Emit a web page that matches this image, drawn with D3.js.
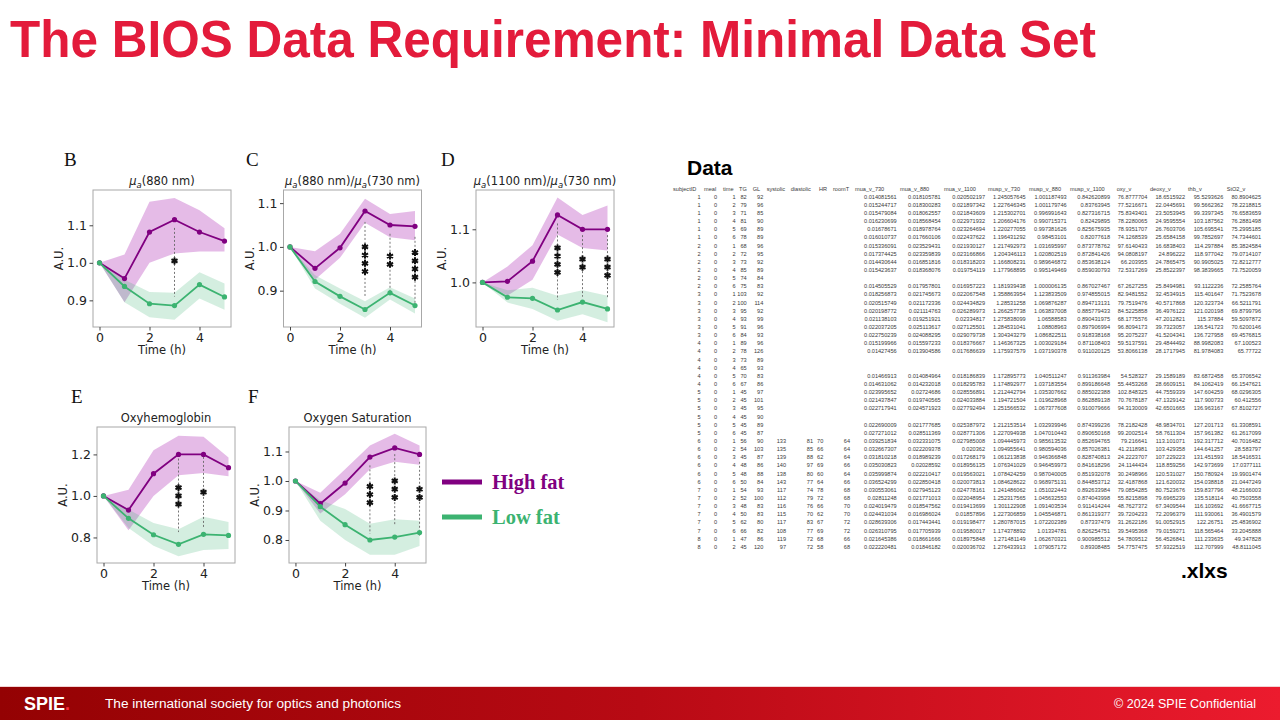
<!DOCTYPE html>
<html><head><meta charset="utf-8">
<script src="https://cdn.jsdelivr.net/npm/d3@7"></script>
<style>body{margin:0;background:#fff}svg{display:block}</style>
</head><body>
<svg id="c" width="1280" height="720"></svg>
<script>
// ---------------- chart data ----------------
const hours = [0, 1, 2, 3, 4, 5];
const xTickValues = [0, 2, 4];

const bHigh   = [1.0, 0.958, 1.082, 1.115, 1.082, 1.058];
const bHighLo = [1.0, 0.895, 1.0, 1.025, 1.03, 1.03];
const bHighHi = [1.0, 1.022, 1.163, 1.173, 1.14, 1.092];
const bLow    = [1.0, 0.937, 0.891, 0.886, 0.942, 0.909];
const bLowLo  = [1.0, 0.895, 0.855, 0.848, 0.905, 0.875];
const bLowHi  = [1.0, 0.955, 0.922, 0.92, 0.975, 0.945];
const bSig = [{t:3, n:1, top:1.093, bot:0.91, star:1.005}];

const cHigh   = [1.0, 0.951, 0.998, 1.082, 1.05, 1.047];
const cHighLo = [1.0, 0.925, 0.975, 1.055, 1.022, 1.015];
const cHighHi = [1.0, 0.99, 1.03, 1.11, 1.075, 1.082];
const cLow    = [1.0, 0.921, 0.887, 0.857, 0.895, 0.866];
const cLowLo  = [1.0, 0.905, 0.87, 0.838, 0.88, 0.848];
const cLowHi  = [1.0, 0.935, 0.905, 0.876, 0.908, 0.882];
const cSig = [{t:3, n:4, top:1.057, bot:0.886, star:1.0},
              {t:4, n:2, top:1.03, bot:0.897, star:0.979},
              {t:5, n:4, top:1.023, bot:0.87, star:0.987}];

const dHigh   = [1.0, 1.002, 1.04, 1.127, 1.1, 1.1];
const dHighLo = [1.0, 0.975, 1.005, 1.09, 1.065, 1.06];
const dHighHi = [1.0, 1.03, 1.07, 1.16, 1.127, 1.145];
const dLow    = [1.0, 0.972, 0.97, 0.948, 0.963, 0.95];
const dLowLo  = [1.0, 0.962, 0.95, 0.928, 0.94, 0.925];
const dLowHi  = [1.0, 0.985, 0.99, 0.975, 0.985, 0.975];
const dSig = [{t:3, n:4, top:1.111, bot:0.967, star:1.065},
              {t:4, n:2, top:1.089, bot:0.973, star:1.044},
              {t:5, n:3, top:1.089, bot:0.97, star:1.044}];

const eHigh   = [1.0, 0.932, 1.107, 1.2, 1.2, 1.136];
const eHighLo = [1.0, 0.835, 1.0, 1.1, 1.11, 1.095];
const eHighHi = [1.0, 1.03, 1.22, 1.29, 1.285, 1.185];
const eLow    = [1.0, 0.892, 0.813, 0.767, 0.815, 0.81];
const eLowLo  = [1.0, 0.845, 0.76, 0.71, 0.74, 0.745];
const eLowHi  = [1.0, 0.935, 0.87, 0.84, 0.9, 0.875];
const eSig = [{t:3, n:3, top:1.18, bot:0.826, star:1.04},
              {t:4, n:1, top:1.188, bot:0.85, star:1.018}];

const fHigh   = [1.0, 0.923, 0.993, 1.081, 1.112, 1.09];
const fHighLo = [1.0, 0.89, 0.955, 1.04, 1.065, 1.055];
const fHighHi = [1.0, 0.96, 1.04, 1.12, 1.16, 1.12];
const fLow    = [1.0, 0.913, 0.852, 0.8, 0.81, 0.825];
const fLowLo  = [1.0, 0.865, 0.8, 0.75, 0.75, 0.78];
const fLowHi  = [1.0, 0.935, 0.905, 0.855, 0.87, 0.865];
const fSig = [{t:3, n:3, top:1.053, bot:0.821, star:0.982},
              {t:4, n:3, top:1.091, bot:0.849, star:1.0},
              {t:5, n:2, top:1.065, bot:0.815, star:0.972}];

const legendLabels = ["High fat", "Low fat"];

// ---------------- table data ----------------
const tableHeaders = ["subjectID","meal","time","TG","GL","systolic","diastolic","HR","roomT","mua_v_730","mua_v_880","mua_v_1100","musp_v_730","musp_v_880","musp_v_1100","oxy_v","deoxy_v","thb_v","StO2_v"];
const colSubject = [1,1,1,1,1,1,2,2,2,2,2,2,3,3,3,3,3,3,4,4,4,4,4,4,5,5,5,5,5,5,6,6,6,6,6,6,7,7,7,7,7,7,8,8];
const colMeal = [0,0,0,0,0,0,0,0,0,0,0,0,0,0,0,0,0,0,0,0,0,0,0,0,0,0,0,0,0,0,0,0,0,0,0,0,0,0,0,0,0,0,0,0];
const colTime = [1,2,3,4,5,6,1,2,3,4,5,6,1,2,3,4,5,6,1,2,3,4,5,6,1,2,3,4,5,6,1,2,3,4,5,6,1,2,3,4,5,6,1,2];
const colTG = [82,79,71,81,69,78,68,72,73,85,74,75,103,100,95,93,91,84,89,78,73,65,70,67,45,45,45,45,45,45,56,54,45,48,48,50,54,52,48,50,62,66,47,45];
const colGL = [92,96,85,90,89,89,96,95,92,89,84,83,92,114,92,99,96,93,96,126,89,93,83,86,97,101,95,90,89,87,90,103,87,86,88,84,93,100,83,83,80,82,86,120];
const N30 = [null,null,null,null,null,null,null,null,null,null,null,null,null,null,null,null,null,null,null,null,null,null,null,null,null,null,null,null,null,null];
const colSys = N30.concat([133,135,139,140,138,143,117,112,116,115,117,108,119,97]);
const colDia = N30.concat([81,85,88,97,80,77,74,79,76,70,83,77,72,72]);
const colHR = N30.concat([70,66,62,69,60,64,78,72,66,62,67,69,68,58]);
const colRoomT = N30.concat([64,64,64,66,64,66,68,68,70,70,72,72,66,68]);
const colMua730 = ["0.014081561","0.015244717","0.015479084","0.016230699","0.01678671","0.016010737","0.015336091","0.017374425","0.014430644","0.015423637",null,"0.014505529","0.018256873","0.020515749","0.020198772","0.021138103","0.022037205","0.022750239","0.015199966","0.01427456",null,null,"0.01466913","0.014631062","0.023995652","0.021437847","0.022717941",null,"0.022690009","0.027271012","0.039251834","0.032667307","0.031810218","0.035030823","0.035999874","0.036524299","0.030553061","0.02811248","0.024019479","0.024431034","0.028639306","0.026310795","0.021645386","0.022220481"];
const colMua880 = ["0.018105781","0.018300283","0.018062557","0.018568454","0.018978764","0.017660106","0.023529431","0.023359839","0.016851816","0.018368076",null,"0.017957801","0.021745673","0.021172336","0.021114763","0.019251921","0.025113617","0.024088295","0.015597233","0.013904586",null,null,"0.014084964","0.014232018","0.02724686","0.019740565","0.024571923",null,"0.021777685","0.028511369","0.032331075","0.022209378","0.018989239","0.02028592","0.022210417","0.022850418","0.027945123","0.021771013","0.018547562","0.016986024","0.017443441","0.017705939","0.018661666","0.01846182"];
const colMua1100 = ["0.020502197","0.021897342","0.021843609","0.022971932","0.023264694","0.022437622","0.021930127","0.023166866","0.018318203","0.019754119",null,"0.016957223","0.022067548","0.024434829","0.026289973","0.02334817","0.027125501","0.029079738","0.018376667","0.017686639",null,null,"0.018186839","0.018295783","0.028556891","0.024033884","0.027792494",null,"0.025387972","0.028771306","0.027985008","0.020362","0.017268179","0.018956135","0.019563021","0.020073813","0.024778161","0.022048954","0.019413699","0.01857896","0.019198477","0.019580017","0.018975848","0.020036702"];
const colMusp730 = ["1.245057645","1.227646345","1.215302701","1.206604176","1.220277055","1.196431292","1.217492973","1.204346113","1.166808231","1.177968895",null,"1.181939438","1.358863954","1.28531258","1.266257738","1.275838099","1.284531041","1.304343279","1.146367325","1.175937579",null,null,"1.172895773","1.174892977","1.212442794","1.194721504","1.251566532",null,"1.212153514","1.227094938","1.094445973","1.094955641","1.061213838","1.076341029","1.078424259","1.084628622","1.241486062","1.252317565","1.301122908","1.227306859","1.280787015","1.174378892","1.271481149","1.276433913"];
const colMusp880 = ["1.001187493","1.001179746","0.996991643","0.990715371","0.997381626","0.98453101","1.031695997","1.020802519","0.989646872","0.995149469",null,"1.000006135","1.123833509","1.069876287","1.063837008","1.06588583","1.08808963","1.086822511","1.003029184","1.037190378",null,null,"1.040511247","1.037183554","1.035307662","1.019628968","1.067377608",null,"1.032939946","1.047010443","0.985613532","0.980594036","0.946366848","0.946459973","0.987040005","0.968975131","1.051022443","1.045632553","1.091403534","1.045546871","1.072202389","1.01334781","1.062670321","1.079057172"];
const colMusp1100 = ["0.842620899","0.83763945","0.827316715","0.82429895","0.825675935","0.82077618","0.873778762","0.872841426","0.853638124","0.859030793",null,"0.867027467","0.974855015","0.894713131","0.885779433","0.890431975","0.897906994","0.918338168","0.871108403","0.911020125",null,null,"0.911363984","0.899186648","0.885022388","0.862889138","0.910079666",null,"0.874399236","0.890650168","0.852694765","0.857026381","0.828740813","0.841618296","0.851932078","0.844853712","0.892633984","0.874043998","0.911414244","0.861319377","0.87337479","0.826254751","0.900985512","0.89308485"];
const colOxy = ["76.8777704","77.5216671","75.8343401","78.2280065","78.9351707","74.1268539","97.6140433","94.0808197","66.203955","72.5317269",null,"67.2627255","82.9481552","79.7519476","84.5225858","68.1775576","96.8094173","95.2075237","59.5137591","53.8066138",null,null,"54.528327","55.4453268","102.848325","70.7678187","94.3130009",null,"78.2182428","99.2002514","79.216641","41.2118981","24.2223707","24.1144434","30.2498966","32.4187868","79.0854285","55.8215898","48.7627372","39.7204233","31.2622186","39.5495368","54.7809512","54.7757475"];
const colDeoxy = ["18.6515922","22.0445691","23.5053945","24.9595554","26.7603706","25.6584158","16.6838403","24.896222","24.7865475","25.8522397",null,"25.8494981","32.4534915","40.5717868","36.4976122","47.2012821","39.7323057","41.5204341","29.4844492","28.1717945",null,null,"29.1589189","28.6609151","44.7559339","47.1329142","42.6501665",null,"48.9834701","58.7611304","113.101071","103.429358","107.229223","118.859256","120.531027","121.620032","80.7523676","79.6965239","67.3409544","72.2096379","91.0052915","79.0159271","56.4526841","57.9322519"];
const colThb = ["95.5293626","99.5662362","99.3397345","103.187562","105.695541","99.7852697","114.297884","118.977042","90.9905025","98.3839665",null,"93.1122236","115.401647","120.323734","121.020198","115.37884","136.541723","136.727958","88.9982083","81.9784083",null,null,"83.6872458","84.1062419","147.604259","117.900733","136.963167",null,"127.201713","157.961382","192.317712","144.641257","131.451593","142.973699","150.780924","154.038818","159.837796","135.518114","116.103692","111.930061","122.26751","118.565464","111.233635","112.707999"];
const colStO2 = ["80.8904625","78.2218815","76.6583659","76.2881498","75.2995185","74.7344601","85.3824584","79.0714107","72.8212777","73.7520059",null,"72.2585764","71.7523678","66.5211791","69.8799796","59.5097872","70.6200146","69.4576815","67.100523","65.77722",null,null,"65.3706542","66.1547621","68.0296305","60.412556","67.8102727",null,"61.3308591","61.2617099","40.7016482","28.583797","18.5416531","17.0377111","19.9901474","21.0447249","48.2166003","40.7503558","41.6667715","36.4901579","25.4836902","33.2045888","49.347828","48.8111045"];

// ---------------- drawing ----------------
const svg = d3.select("#c");
const PURPLE = "#800080", GREEN = "#3cb371";
const defs = svg.append("defs");

// Title
svg.append("text").attr("x", 10).attr("y", 57)
  .attr("font-family", "Liberation Sans, Arial, sans-serif").attr("font-weight", "bold")
  .attr("font-size", 52).attr("fill", "#e31b3b")
  .attr("textLength", 1086).attr("lengthAdjust", "spacingAndGlyphs")
  .text("The BIOS Data Requirement: Minimal Data Set");

// Panels
const panels = [
  {letter:"B", lx:64, ly:166, l:93, r:231, t:190, b:327, yDom:[0.829,1.194], yTicks:[0.9,1.0,1.1],
   title:[["μ","i"],["a","s"],["(880 nm)",""]], hi:bHigh, hiLo:bHighLo, hiHi:bHighHi, lo:bLow, loLo:bLowLo, loHi:bLowHi, sig:bSig},
  {letter:"C", lx:246, ly:166, l:283.5, r:421.5, t:190, b:327, yDom:[0.817,1.13], yTicks:[0.9,1.0,1.1],
   title:[["μ","i"],["a","s"],["(880 nm)/",""],["μ","i"],["a","s"],["(730 nm)",""]], hi:cHigh, hiLo:cHighLo, hiHi:cHighHi, lo:cLow, loLo:cLowLo, loHi:cLowHi, sig:cSig},
  {letter:"D", lx:441, ly:166, l:476, r:614, t:190, b:327, yDom:[0.916,1.174], yTicks:[1.0,1.1],
   title:[["μ","i"],["a","s"],["(1100 nm)/",""],["μ","i"],["a","s"],["(730 nm)",""]], hi:dHigh, hiLo:dHighLo, hiHi:dHighHi, lo:dLow, loLo:dLowLo, loHi:dLowHi, sig:dSig},
  {letter:"E", lx:71, ly:403, l:97, r:235, t:427, b:563, yDom:[0.677,1.332], yTicks:[0.8,1.0,1.2],
   title:[["Oxyhemoglobin",""]], hi:eHigh, hiLo:eHighLo, hiHi:eHighHi, lo:eLow, loLo:eLowLo, loHi:eLowHi, sig:eSig},
  {letter:"F", lx:248, ly:403, l:289, r:426, t:427, b:563, yDom:[0.722,1.183], yTicks:[0.8,0.9,1.0,1.1],
   title:[["Oxygen Saturation",""]], hi:fHigh, hiLo:fHighLo, hiHi:fHighHi, lo:fLow, loLo:fLowLo, loHi:fLowHi, sig:fSig}
];

const FONT = "DejaVu Sans, sans-serif";
const star = d3.symbol().type(d3.symbolAsterisk).size(34);

panels.forEach(p => {
  const g = svg.append("g");
  const x = d3.scaleLinear().domain([-0.26, 5.26]).range([p.l, p.r]);
  const y = d3.scaleLinear().domain(p.yDom).range([p.b, p.t]);

  g.append("text").attr("x", p.lx).attr("y", p.ly)
    .attr("font-family", "Liberation Serif, Times New Roman, serif").attr("font-size", 19)
    .attr("fill", "#111").text(p.letter);

  const band = (lo, hi) => d3.area().x((d, i) => x(hours[i])).y0((d, i) => y(lo[i])).y1((d, i) => y(hi[i]))(hours);
  g.append("path").attr("d", band(p.hiLo, p.hiHi)).attr("fill", "#bd55c4").attr("fill-opacity", 0.4);
  g.append("path").attr("d", band(p.loLo, p.loHi)).attr("fill", GREEN).attr("fill-opacity", 0.22);

  g.selectAll(".sig").data(p.sig).join("line")
    .attr("x1", d => x(d.t)).attr("x2", d => x(d.t))
    .attr("y1", d => y(d.top)).attr("y2", d => y(d.bot))
    .attr("stroke", "#666").attr("stroke-width", 0.9).attr("stroke-dasharray", "2,2");

  const ln = arr => d3.line().x((d, i) => x(hours[i])).y((d, i) => y(arr[i]))(hours);
  [[p.hi, PURPLE], [p.lo, GREEN]].forEach(([arr, col]) => {
    g.append("path").attr("d", ln(arr)).attr("fill", "none").attr("stroke", col).attr("stroke-width", 1.8);
    g.selectAll(null).data(arr).join("circle")
      .attr("cx", (d, i) => x(hours[i])).attr("cy", d => y(d)).attr("r", 2.6).attr("fill", col);
  });

  p.sig.forEach(s => {
    d3.range(s.n).forEach(k => {
      g.append("path").attr("d", star())
        .attr("transform", `translate(${x(s.t)},${y(s.star) + k * 8.2})`)
        .attr("fill", "none").attr("stroke", "#111").attr("stroke-width", 2);
    });
  });

  g.append("rect").attr("x", p.l).attr("y", p.t).attr("width", p.r - p.l).attr("height", p.b - p.t)
    .attr("fill", "none").attr("stroke", "#a8a8a8").attr("stroke-width", 1);

  const ax = g.append("g").attr("transform", `translate(0,${p.b})`)
    .call(d3.axisBottom(x).tickValues(xTickValues).tickSize(3.5).tickPadding(2.5).tickFormat(d3.format("d")));
  const ay = g.append("g").attr("transform", `translate(${p.l},0)`)
    .call(d3.axisLeft(y).tickValues(p.yTicks).tickSize(3.5).tickPadding(2.5).tickFormat(d3.format(".1f")));
  [ax, ay].forEach(a => {
    a.select(".domain").remove();
    a.selectAll("line").attr("stroke", "#444");
    a.selectAll("text").attr("font-family", FONT).attr("font-size", 12.5).attr("fill", "#222");
  });

  g.append("text").attr("x", (p.l + p.r) / 2).attr("y", p.b + 27).attr("text-anchor", "middle")
    .attr("font-family", FONT).attr("font-size", 11.5).attr("fill", "#222").text("Time (h)");
  g.append("text").attr("transform", `translate(${p.l - 30},${(p.t + p.b) / 2}) rotate(-90)`)
    .attr("text-anchor", "middle").attr("font-family", FONT).attr("font-size", 11.5).attr("fill", "#222").text("A.U.");

  const tt = g.append("text").attr("x", (p.l + p.r) / 2).attr("y", p.t - 5).attr("text-anchor", "middle")
    .attr("font-family", FONT).attr("font-size", 11.5).attr("fill", "#222");
  let prevSub = false;
  p.title.forEach(([txt, st]) => {
    const ts = tt.append("tspan").text(txt);
    if (st === "i") ts.attr("font-style", "italic");
    if (st === "s") { ts.attr("font-style", "italic").attr("font-size", 8.5).attr("dy", 3); prevSub = true; }
    else if (prevSub) { ts.attr("dy", -3); prevSub = false; }
  });
});

// legend
const legColors = [PURPLE, GREEN];
const legY = d3.scalePoint().domain(legendLabels).range([482, 517]);
legendLabels.forEach((lab, i) => {
  svg.append("line").attr("x1", 442).attr("x2", 482).attr("y1", legY(lab)).attr("y2", legY(lab))
    .attr("stroke", legColors[i]).attr("stroke-width", 5);
  svg.append("text").attr("x", 492).attr("y", legY(lab) + 7)
    .attr("font-family", "Liberation Serif, Times New Roman, serif").attr("font-weight", "bold")
    .attr("font-size", 20.5).attr("fill", legColors[i]).text(lab);
});

// Data table
svg.append("text").attr("x", 687).attr("y", 175).attr("font-family", "Liberation Sans, Arial, sans-serif")
  .attr("font-weight", "bold").attr("font-size", 21).attr("fill", "#000").text("Data");
svg.append("text").attr("x", 1181).attr("y", 578).attr("font-family", "Liberation Sans, Arial, sans-serif")
  .attr("font-weight", "bold").attr("font-size", 21).attr("fill", "#000").text(".xlxs");

const headerX = [673, 704, 723, 739, 752.7, 766.7, 790.7, 819, 833, 855, 900, 944, 988, 1029, 1070, 1116.7, 1150, 1188, 1226.7];
const colRight = [700.7, 717, 735.7, 746.7, 763.3, 786, 813, 823.3, 850, 896.7, 940.7, 985, 1025.7, 1066.7, 1110, 1147.3, 1185, 1223.3, 1261];
const columns = [colSubject, colMeal, colTime, colTG, colGL, colSys, colDia, colHR, colRoomT, colMua730, colMua880, colMua1100, colMusp730, colMusp880, colMusp1100, colOxy, colDeoxy, colThb, colStO2];
const tg = svg.append("g").attr("font-family", "Liberation Sans, Arial, sans-serif").attr("font-size", 5.6).attr("fill", "#3a3a3a");
tableHeaders.forEach((h, j) => tg.append("text").attr("x", headerX[j]).attr("y", 191.3).text(h));
const rowY = d3.scaleLinear().domain([0, 43]).range([198.8, 548.8]);
columns.forEach((col, j) => {
  col.forEach((v, i) => {
    if (v === null) return;
    tg.append("text").attr("x", colRight[j]).attr("y", rowY(i)).attr("text-anchor", "end").text(v);
  });
});

// footer
const grad = defs.append("linearGradient").attr("id", "fg").attr("x1", "0").attr("x2", "1");
grad.append("stop").attr("offset", "0").attr("stop-color", "#940203");
grad.append("stop").attr("offset", "0.5").attr("stop-color", "#b80a14");
grad.append("stop").attr("offset", "1").attr("stop-color", "#ec1b2e");
svg.append("rect").attr("x", 0).attr("y", 686).attr("width", 1280).attr("height", 1).attr("fill", "#f2d4d4");
svg.append("rect").attr("x", 0).attr("y", 687).attr("width", 1280).attr("height", 33).attr("fill", "url(#fg)");
const logo = svg.append("text").attr("x", 24).attr("y", 710).attr("font-family", "Liberation Sans, Arial, sans-serif")
  .attr("font-weight", "bold").attr("font-size", 18).attr("fill", "#fff");
logo.append("tspan").text("SPIE");
logo.append("tspan").attr("fill", "#ff3040").text(".");
svg.append("text").attr("x", 105).attr("y", 708).attr("font-family", "Liberation Sans, Arial, sans-serif")
  .attr("font-size", 12.5).attr("fill", "#fff").attr("textLength", 296).attr("lengthAdjust", "spacingAndGlyphs")
  .text("The international society for optics and photonics");
svg.append("text").attr("x", 1256).attr("y", 708).attr("text-anchor", "end").attr("font-family", "Liberation Sans, Arial, sans-serif")
  .attr("font-size", 12.5).attr("fill", "#fff").text("© 2024 SPIE Confidential");
</script>
</body></html>
